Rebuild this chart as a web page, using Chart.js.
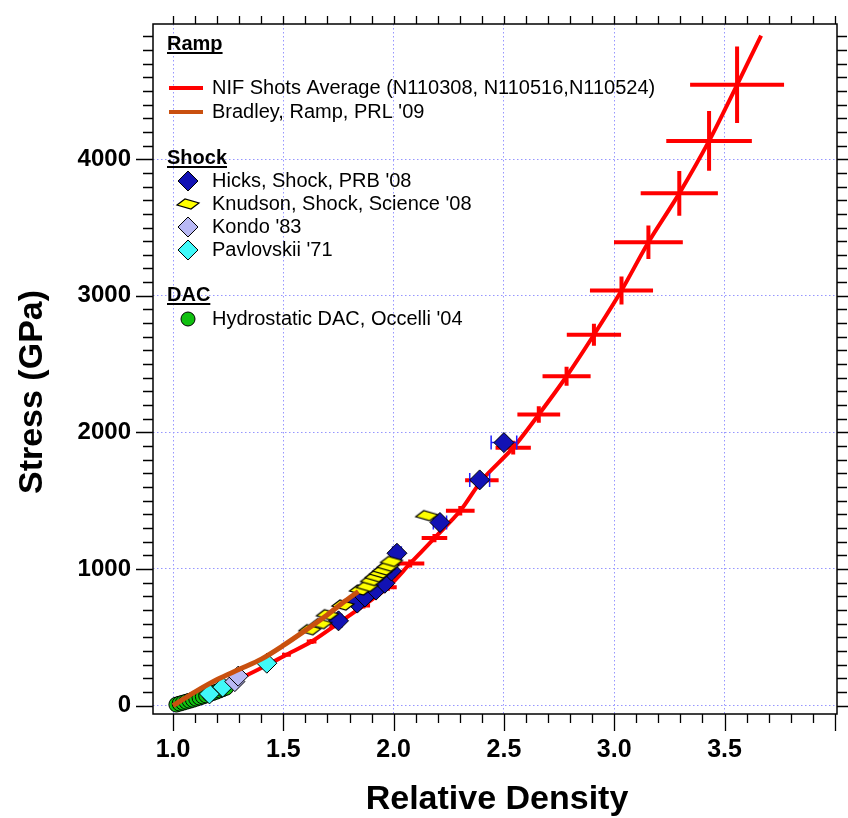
<!DOCTYPE html>
<html>
<head>
<meta charset="utf-8">
<script src="https://cdn.jsdelivr.net/npm/chart.js@4.4.0/dist/chart.umd.min.js"></script>
<style>
  html, body { margin: 0; padding: 0; background: #fff; }
</style>
</head>
<body>
<canvas id="stressChart" width="848" height="818"></canvas>
<script>
// axis ticks
const xTicks = [1.0, 1.5, 2.0, 2.5, 3.0, 3.5];
const yTicks = [0, 1000, 2000, 3000, 4000];

// NIF shots average (ramp) - curve
const nifX = [1.00, 1.10, 1.20, 1.32, 1.42, 1.514, 1.628, 1.734, 1.863, 1.974, 2.075, 2.185, 2.302, 2.40, 2.542, 2.658, 2.784, 2.908, 3.033, 3.155, 3.295, 3.43, 3.557, 3.666];
const nifY = [0, 55, 125, 211, 291, 372, 469, 586, 732, 866, 1040, 1226, 1426, 1650, 1888, 2131, 2411, 2715, 3039, 3392, 3750, 4134, 4545, 4905];

// NIF error crosses
const nifErrX = [1.514, 1.628, 1.734, 1.863, 1.974, 2.075, 2.185, 2.302, 2.40, 2.542, 2.658, 2.784, 2.908, 3.033, 3.155, 3.295, 3.43, 3.557];
const nifErrY = [372, 469, 586, 732, 866, 1040, 1226, 1426, 1650, 1888, 2131, 2411, 2715, 3039, 3392, 3750, 4134, 4545];
const nifErrDx = [0.02, 0.022, 0.025, 0.03, 0.04, 0.064, 0.058, 0.065, 0.076, 0.08, 0.097, 0.109, 0.123, 0.143, 0.156, 0.175, 0.194, 0.213];
const nifErrDy = [15, 18, 20, 22, 25, 30, 30, 35, 40, 50, 60, 70, 80, 103, 122, 164, 219, 280];

// Bradley ramp
const bradleyX = [1.00, 1.05, 1.10, 1.20, 1.30, 1.40, 1.50, 1.60, 1.70, 1.78, 1.84];
const bradleyY = [0, 50, 100, 190, 265, 340, 440, 550, 665, 765, 835];

// Hicks shock
const hicksX = [1.75, 1.835, 1.87, 1.92, 1.96, 1.99, 2.015, 2.21, 2.39, 2.50];
const hicksY = [620, 750, 795, 845, 895, 985, 1115, 1340, 1652, 1925];
const hicksDx = [0.015, 0.015, 0.015, 0.015, 0.015, 0.015, 0.02, 0.03, 0.045, 0.058];

// Knudson shock
const knudsonX = [1.62, 1.67, 1.70, 1.77, 1.85, 1.88, 1.90, 1.92, 1.94, 1.955, 1.975, 1.99, 2.15];
const knudsonY = [555, 600, 665, 736, 846, 872, 915, 943, 970, 992, 1020, 1055, 1390];

// Kondo, Pavlovskii
const kondoX = [1.28, 1.295];
const kondoY = [175, 215];
const pavlovskiiX = [1.165, 1.225, 1.425];
const pavlovskiiY = [85, 135, 310];

// Occelli hydrostatic DAC
const dacX = [1.015, 1.03, 1.045, 1.06, 1.075, 1.09, 1.105, 1.12, 1.135, 1.15, 1.165, 1.18, 1.195, 1.21, 1.225, 1.24];
const dacY = [7, 14, 21, 28, 35, 42, 50, 58, 66, 74, 83, 92, 101, 110, 120, 130];

const FONT = '"Liberation Sans", Arial, sans-serif';
const RED = '#ff0000';
const ORANGE = '#c9500f';
const BLUE = '#1212b4';
const YELLOW = '#ffff00';
const LAVENDER = '#b8b8f4';
const CYAN = '#40f8f8';
const GREEN = '#10c010';
const GRID = '#9696ff';

function pts(xs, ys) {
    return xs.map(function (x, i) { return { x: x, y: ys[i] }; });
}

// flattened diamond used for Knudson points
function flatDiamond() {
    const c = document.createElement('canvas');
    c.width = 26;
    c.height = 14;
    const g = c.getContext('2d');
    g.beginPath();
    g.moveTo(2, 8);
    g.lineTo(10, 2);
    g.lineTo(24, 6);
    g.lineTo(16, 12);
    g.closePath();
    g.fillStyle = YELLOW;
    g.fill();
    g.lineWidth = 1.2;
    g.strokeStyle = '#000';
    g.stroke();
    return c;
}
const knudsonMark = flatDiamond();

function diamond(ctx, x, y, r, fill) {
    ctx.beginPath();
    ctx.moveTo(x - r, y);
    ctx.lineTo(x, y - r);
    ctx.lineTo(x + r, y);
    ctx.lineTo(x, y + r);
    ctx.closePath();
    ctx.fillStyle = fill;
    ctx.fill();
    ctx.lineWidth = 1;
    ctx.strokeStyle = '#000';
    ctx.stroke();
}

const NIF_INDEX = 0;
const HICKS_INDEX = 2;

const framePlugin = {
    id: 'framePlugin',
    beforeDatasetDraw(chart, args) {
        if (args.index !== HICKS_INDEX) return;
        const ctx = chart.ctx, xs = chart.scales.x, ys = chart.scales.y;
        ctx.save();
        ctx.strokeStyle = '#1e1eff';
        ctx.lineWidth = 1.5;
        hicksX.forEach(function (v, i) {
            const x0 = xs.getPixelForValue(v - hicksDx[i]);
            const x1 = xs.getPixelForValue(v + hicksDx[i]);
            const y = ys.getPixelForValue(hicksY[i]);
            ctx.beginPath();
            ctx.moveTo(x0, y); ctx.lineTo(x1, y);
            ctx.moveTo(x0, y - 7); ctx.lineTo(x0, y + 7);
            ctx.moveTo(x1, y - 7); ctx.lineTo(x1, y + 7);
            ctx.stroke();
        });
        ctx.restore();
    },
    afterDatasetDraw(chart, args) {
        if (args.index !== NIF_INDEX) return;
        const ctx = chart.ctx, xs = chart.scales.x, ys = chart.scales.y;
        ctx.save();
        ctx.strokeStyle = RED;
        ctx.lineWidth = 4;
        nifErrX.forEach(function (v, i) {
            const x = xs.getPixelForValue(v);
            const y = ys.getPixelForValue(nifErrY[i]);
            ctx.beginPath();
            ctx.moveTo(xs.getPixelForValue(v - nifErrDx[i]), y);
            ctx.lineTo(xs.getPixelForValue(v + nifErrDx[i]), y);
            ctx.moveTo(x, ys.getPixelForValue(nifErrY[i] - nifErrDy[i]));
            ctx.lineTo(x, ys.getPixelForValue(nifErrY[i] + nifErrDy[i]));
            ctx.stroke();
        });
        ctx.restore();
    },
    afterDraw(chart) {
        const ctx = chart.ctx, xs = chart.scales.x, ys = chart.scales.y;
        const a = chart.chartArea;
        ctx.save();
        // frame
        ctx.strokeStyle = '#000';
        ctx.lineWidth = 1.5;
        ctx.strokeRect(a.left, a.top, a.right - a.left, a.bottom - a.top);
        // tick marks, majors long, minors short, all pointing outward
        ctx.lineWidth = 1.3;
        ctx.beginPath();
        for (let k = 10; k <= 40; k++) {
            const v = k / 10;
            const px = Math.round(xs.getPixelForValue(v)) + 0.5;
            if (px > a.right + 1) break;
            const len = (k % 5 === 0) ? 17 : 9;
            ctx.moveTo(px, a.bottom); ctx.lineTo(px, a.bottom + len);
            ctx.moveTo(px, a.top); ctx.lineTo(px, a.top - 8);
        }
        for (let k = 0; k <= 49; k++) {
            const py = Math.round(ys.getPixelForValue(k * 100)) + 0.5;
            if (py < a.top) break;
            const len = (k % 10 === 0) ? 17 : 10;
            ctx.moveTo(a.left, py); ctx.lineTo(a.left - len, py);
            ctx.moveTo(a.right, py); ctx.lineTo(a.right + len, py);
        }
        ctx.stroke();

        // axis titles
        ctx.fillStyle = '#000';
        ctx.font = 'bold 34px ' + FONT;
        ctx.textAlign = 'center';
        ctx.textBaseline = 'middle';
        ctx.fillText('Relative Density', (a.left + a.right) / 2 + 2, 800);
        ctx.save();
        ctx.translate(33, 392);
        ctx.rotate(-Math.PI / 2);
        ctx.fillText('Stress (GPa)', 0, 0);
        ctx.restore();

        // grouped legend
        const tx = 212, mx = 188;
        ctx.textAlign = 'left';
        ctx.textBaseline = 'middle';
        function header(txt, y) {
            ctx.font = 'bold 20px ' + FONT;
            ctx.fillStyle = '#000';
            ctx.fillText(txt, 167, y);
            const w = ctx.measureText(txt).width;
            ctx.fillRect(167, y + 8, w, 2);
        }
        function label(txt, y) {
            ctx.font = '20px ' + FONT;
            ctx.fillStyle = '#000';
            ctx.fillText(txt, tx, y);
        }
        header('Ramp', 44);
        ctx.lineWidth = 4;
        ctx.strokeStyle = RED;
        ctx.beginPath(); ctx.moveTo(169, 88); ctx.lineTo(203, 88); ctx.stroke();
        label('NIF Shots Average (N110308, N110516,N110524)', 88);
        ctx.strokeStyle = ORANGE;
        ctx.beginPath(); ctx.moveTo(169, 112); ctx.lineTo(203, 112); ctx.stroke();
        label("Bradley, Ramp, PRL '09", 112);

        header('Shock', 158);
        diamond(ctx, mx, 181, 10, BLUE);
        label("Hicks, Shock, PRB '08", 181);
        ctx.drawImage(knudsonMark, mx - 13, 204 - 7);
        label("Knudson, Shock, Science '08", 204);
        diamond(ctx, mx, 227, 10, LAVENDER);
        label("Kondo '83", 227);
        diamond(ctx, mx, 250, 10, CYAN);
        label("Pavlovskii '71", 250);

        header('DAC', 295);
        ctx.beginPath();
        ctx.arc(mx, 319, 7, 0, Math.PI * 2);
        ctx.fillStyle = GREEN;
        ctx.fill();
        ctx.lineWidth = 1;
        ctx.strokeStyle = '#000';
        ctx.stroke();
        label("Hydrostatic DAC, Occelli '04", 319);
        ctx.restore();
    }
};

const ctx = document.getElementById('stressChart').getContext('2d');
const stressChart = new Chart(ctx, {
    type: 'scatter',
    data: {
        datasets: [
            {
                label: 'NIF Shots Average (N110308, N110516,N110524)',
                data: pts(nifX, nifY),
                showLine: true,
                borderColor: RED,
                borderWidth: 4,
                pointRadius: 0,
                tension: 0.3,
                order: 6
            },
            {
                label: "Bradley, Ramp, PRL '09",
                data: pts(bradleyX, bradleyY),
                showLine: true,
                borderColor: ORANGE,
                borderWidth: 5,
                pointRadius: 0,
                tension: 0.3,
                order: 0
            },
            {
                label: "Hicks, Shock, PRB '08",
                data: pts(hicksX, hicksY),
                pointStyle: 'rectRot',
                pointRadius: 10,
                backgroundColor: BLUE,
                borderColor: '#000',
                borderWidth: 1,
                order: 2
            },
            {
                label: "Knudson, Shock, Science '08",
                data: pts(knudsonX, knudsonY),
                pointStyle: knudsonMark,
                order: 1
            },
            {
                label: "Kondo '83",
                data: pts(kondoX, kondoY),
                pointStyle: 'rectRot',
                pointRadius: 10,
                backgroundColor: LAVENDER,
                borderColor: '#000',
                borderWidth: 1,
                order: 3
            },
            {
                label: "Pavlovskii '71",
                data: pts(pavlovskiiX, pavlovskiiY),
                pointStyle: 'rectRot',
                pointRadius: 10,
                backgroundColor: CYAN,
                borderColor: '#000',
                borderWidth: 1,
                order: 4
            },
            {
                label: "Hydrostatic DAC, Occelli '04",
                data: pts(dacX, dacY),
                pointStyle: 'circle',
                pointRadius: 7.5,
                backgroundColor: GREEN,
                borderColor: '#000',
                borderWidth: 1,
                order: 5
            }
        ]
    },
    options: {
        responsive: false,
        animation: false,
        devicePixelRatio: 1,
        layout: { padding: { top: 24, right: 10, left: 0, bottom: 0 } },
        plugins: {
            legend: { display: false },
            tooltip: { enabled: false }
        },
        scales: {
            x: {
                type: 'linear',
                min: 0.909,
                max: 4.01,
                afterBuildTicks: function (scale) {
                    scale.ticks = xTicks.map(function (v) { return { value: v }; });
                },
                afterFit: function (scale) {
                    scale.height = 104;
                    scale.paddingLeft = 0;
                    scale.paddingRight = 0;
                },
                grid: { color: GRID, lineWidth: 1, drawTicks: false },
                border: { display: false, dash: [1.5, 2.5] },
                ticks: {
                    font: { family: FONT, size: 25, weight: 'bold' },
                    color: '#000',
                    padding: 21,
                    maxRotation: 0,
                    callback: function (v) { return v.toFixed(1); }
                }
            },
            y: {
                type: 'linear',
                min: -62,
                max: 4990,
                afterBuildTicks: function (scale) {
                    scale.ticks = yTicks.map(function (v) { return { value: v }; });
                },
                afterFit: function (scale) {
                    scale.width = 153;
                    scale.paddingTop = 0;
                    scale.paddingBottom = 0;
                },
                grid: { color: GRID, lineWidth: 1, drawTicks: false },
                border: { display: false, dash: [1.5, 2.5] },
                ticks: {
                    font: { family: FONT, size: 24, weight: 'bold' },
                    color: '#000',
                    padding: 22,
                    callback: function (v) { return String(v); }
                }
            }
        }
    },
    plugins: [framePlugin]
});
</script>
</body>
</html>
